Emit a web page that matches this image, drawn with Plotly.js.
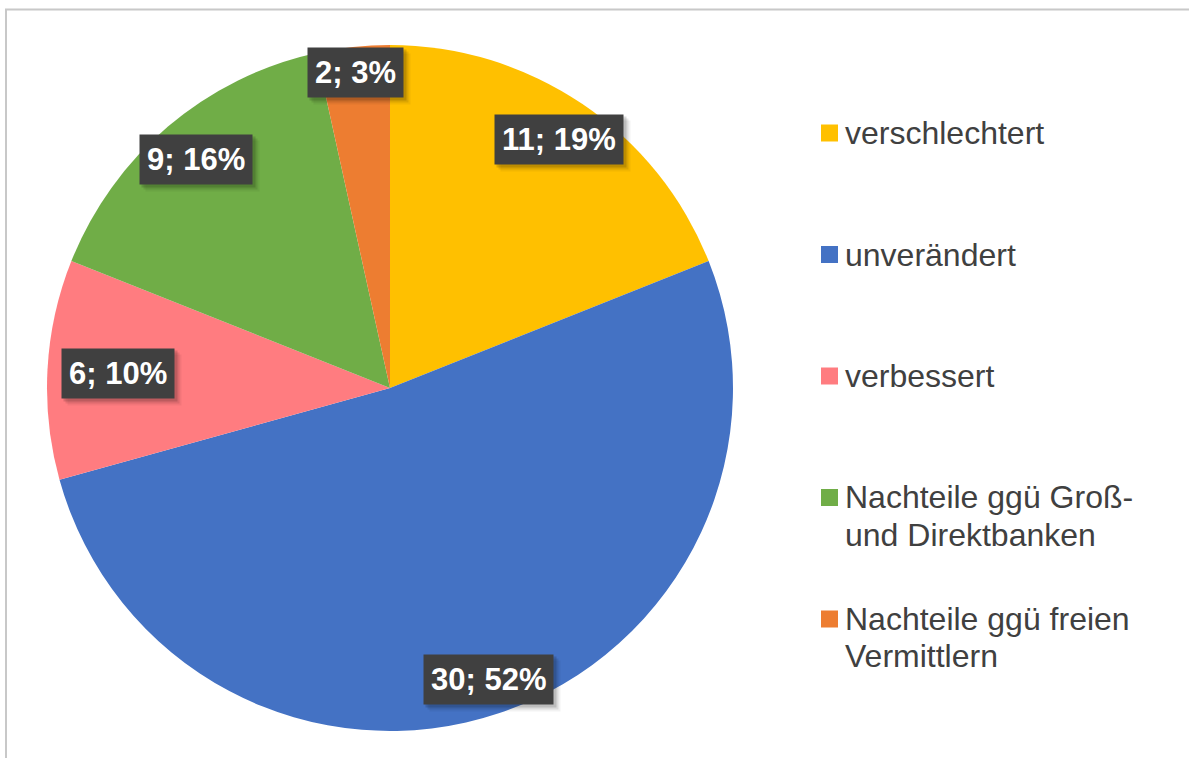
<!DOCTYPE html>
<html>
<head>
<meta charset="utf-8">
<script src="https://cdn.plot.ly/plotly-3.0.1.min.js"></script>
<style>
  html, body { margin: 0; padding: 0; background: #ffffff; }
  #chart { width: 1189px; height: 758px; }
</style>
</head>
<body>
<div id="chart"></div>
<script>
// ---- data ----
const categories = [
  "verschlechtert",
  "unverändert",
  "verbessert",
  "Nachteile ggü Groß-\nund Direktbanken",
  "Nachteile ggü freien\nVermittlern"
];
const counts = [11, 30, 6, 9, 2];
const colors = ["#FFC000", "#4472C4", "#FF7C80", "#70AD47", "#ED7D31"];

// ---- layout constants (pixels) ----
const W = 1189, H = 758;
const cx = 390, cy = 388, R = 343;
const labelRadius = [0.877, 0.898, 0.793, 0.875, 0.924];
const legendX = 821, legendY0 = 133, legendStep = 121.5, lineStep = 37, markerSize = 17;
const FONT = "Liberation Sans, Arial, sans-serif";

const px2x = p => p / W;
const px2y = p => 1 - p / H;

const total = counts.reduce((a, b) => a + b, 0);

const trace = {
  type: "pie",
  values: counts,
  labels: categories.map(c => c.replace("\n", " ")),
  marker: { colors: colors, line: { width: 0 } },
  sort: false,
  direction: "clockwise",
  rotation: 0,
  textinfo: "none",
  hoverinfo: "none",
  showlegend: false,
  domain: { x: [px2x(cx - R), px2x(cx + R)], y: [px2y(cy + R), px2y(cy - R)] }
};

const annotations = [];
const shapes = [];

// data labels
let cum = 0;
counts.forEach((v, i) => {
  const f = (cum + v / 2) / total;
  cum += v;
  const th = f * 2 * Math.PI;
  const r = R * labelRadius[i];
  const lx = cx + r * Math.sin(th);
  const ly = cy - r * Math.cos(th);
  annotations.push({
    xref: "paper", yref: "paper",
    x: px2x(lx), y: px2y(ly),
    xanchor: "center", yanchor: "middle",
    showarrow: false,
    text: v + "; " + Math.round(v / total * 100) + "%",
    font: { family: FONT, size: 31, color: "#ffffff", weight: "bold" },
    bgcolor: "#404040",
    borderpad: 7
  });
});

// legend
let ly = legendY0;
categories.forEach((c, i) => {
  const lines = c.split("\n");
  shapes.push({
    type: "rect", xref: "paper", yref: "paper",
    x0: px2x(legendX), x1: px2x(legendX + markerSize),
    y0: px2y(ly - markerSize / 2), y1: px2y(ly + markerSize / 2),
    fillcolor: colors[i], line: { width: 0 }
  });
  lines.forEach((t, k) => {
    annotations.push({
      xref: "paper", yref: "paper",
      x: px2x(legendX + markerSize + 5), y: px2y(ly + k * lineStep),
      xanchor: "left", yanchor: "middle",
      showarrow: false,
      text: t,
      font: { family: FONT, size: 32, color: "#404040" }
    });
  });
  ly += legendStep;
});

// chart frame
shapes.push({ type: "line", xref: "paper", yref: "paper",
  x0: px2x(5), x1: 1, y0: px2y(9.5), y1: px2y(9.5), line: { color: "#c8c8c8", width: 2 } });
shapes.push({ type: "line", xref: "paper", yref: "paper",
  x0: px2x(6), x1: px2x(6), y0: px2y(9), y1: 0, line: { color: "#c8c8c8", width: 2 } });

const layout = {
  width: W, height: H,
  margin: { l: 0, r: 0, t: 0, b: 0 },
  paper_bgcolor: "#ffffff",
  showlegend: false,
  annotations: annotations,
  shapes: shapes,
  font: { family: FONT }
};

const gd = document.getElementById("chart");
Plotly.newPlot(gd, [trace], layout, { displayModeBar: false, staticPlot: true }).then(() => {
  // soft drop shadows behind the data-label boxes, sized from the rendered boxes
  const root = gd.getBoundingClientRect();
  const extra = [];
  gd.querySelectorAll(".annotation").forEach(node => {
    const idx = +node.getAttribute("data-index");
    if (idx >= counts.length) return;
    const bg = node.querySelector("rect.bg");
    if (!bg) return;
    const b = bg.getBoundingClientRect();
    const x0 = b.left - root.left, x1 = b.right - root.left;
    const y0 = b.top - root.top, y1 = b.bottom - root.top;
    [[7, 0.05], [5, 0.09], [3, 0.14]].forEach(([o, a]) => {
      extra.push({
        type: "rect", xref: "paper", yref: "paper", layer: "above",
        x0: px2x(x0 + o - 1), x1: px2x(x1 + o),
        y0: px2y(y1 + o), y1: px2y(y0 + o - 1),
        fillcolor: "rgba(0,0,0," + a + ")", line: { width: 0 }
      });
    });
  });
  return Plotly.relayout(gd, { shapes: shapes.concat(extra) });
});
</script>
</body>
</html>
